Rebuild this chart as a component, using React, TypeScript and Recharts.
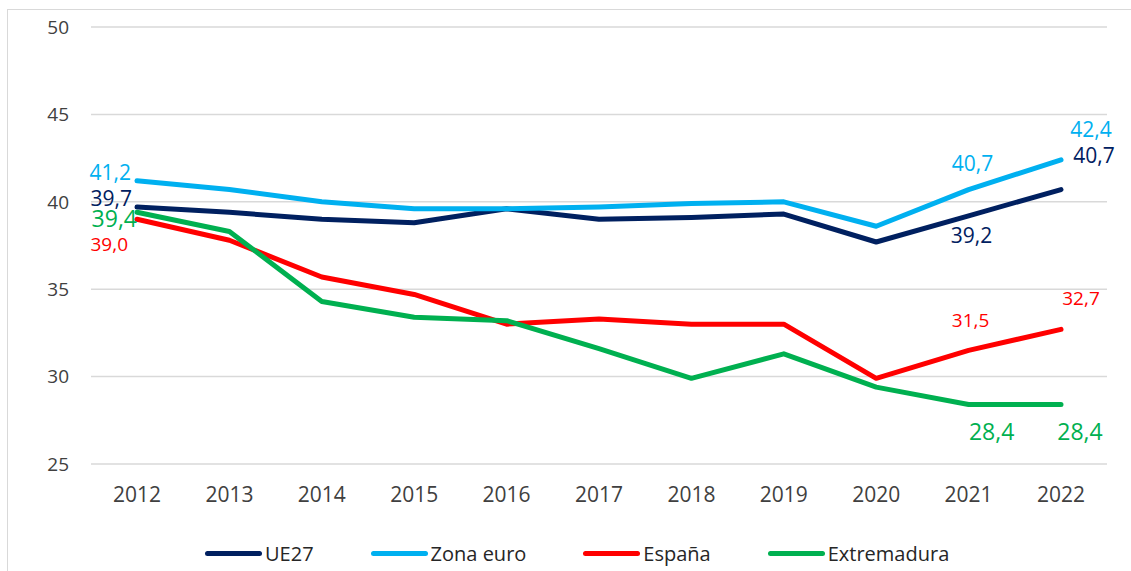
import { LineChart, Line, XAxis, YAxis, CartesianGrid, Legend, LabelList } from "recharts";

const years = ["2012", "2013", "2014", "2015", "2016", "2017", "2018", "2019", "2020", "2021", "2022"];
const ue27 = [39.7, 39.4, 39.0, 38.8, 39.6, 39.0, 39.1, 39.3, 37.7, 39.2, 40.7];
const zonaEuro = [41.2, 40.7, 40.0, 39.6, 39.6, 39.7, 39.9, 40.0, 38.6, 40.7, 42.4];
const espana = [39.0, 37.8, 35.7, 34.7, 33.0, 33.3, 33.0, 33.0, 29.9, 31.5, 32.7];
const extremadura = [39.4, 38.3, 34.3, 33.4, 33.2, 31.6, 29.9, 31.3, 29.4, 28.4, 28.4];
const yTicks = [25, 30, 35, 40, 45, 50];

const data = years.map((year, i) => ({
  year,
  ue27: ue27[i],
  zona: zonaEuro[i],
  espana: espana[i],
  extremadura: extremadura[i],
}));

const series = [
  { key: "ue27", name: "UE27", color: "#002060", size: 21 },
  { key: "zona", name: "Zona euro", color: "#00B0F0", size: 21 },
  { key: "espana", name: "España", color: "#FF0000", size: 19 },
  { key: "extremadura", name: "Extremadura", color: "#00B050", size: 23 },
];

// where each visible data label sits relative to its point (by year index)
type Place = { dx: number; dy: number; anchor: "start" | "middle" | "end" };
const labelPlaces: Record<string, Record<number, Place>> = {
  ue27: {
    0: { dx: -5, dy: -9, anchor: "end" },
    9: { dx: 3, dy: 19, anchor: "middle" },
    10: { dx: 33, dy: -35, anchor: "middle" },
  },
  zona: {
    0: { dx: -6, dy: -9, anchor: "end" },
    9: { dx: 4, dy: -27, anchor: "middle" },
    10: { dx: 30, dy: -31, anchor: "middle" },
  },
  espana: {
    0: { dx: -9, dy: 25, anchor: "end" },
    9: { dx: 2, dy: -30, anchor: "middle" },
    10: { dx: 20, dy: -31, anchor: "middle" },
  },
  extremadura: {
    0: { dx: 0, dy: 6, anchor: "end" },
    9: { dx: 23, dy: 26, anchor: "middle" },
    10: { dx: 19, dy: 26, anchor: "middle" },
  },
};

const fmt = (v: number) => v.toFixed(1).replace(".", ",");

const makeLabel = (key: string, color: string, size: number) => (props: any) => {
  const { x, y, value, index } = props;
  const place = labelPlaces[key][index];
  if (!place) return null;
  return (
    <text
      x={x + place.dx}
      y={y + place.dy}
      textAnchor={place.anchor}
      dominantBaseline="central"
      fill={color}
      fontSize={size}
      fontFamily="Open Sans"
    >
      {fmt(value)}
    </text>
  );
};

const LegendContent = () => (
  <div style={{ display: "flex", alignItems: "center", paddingLeft: 205, paddingTop: 9 }}>
    {series.map((s) => (
      <div key={s.key} style={{ display: "flex", alignItems: "center", marginRight: 57 }}>
        <span style={{ width: 57, height: 5, borderRadius: 3, background: s.color, display: "inline-block" }} />
        <span style={{ marginLeft: 3, fontSize: 20, color: "#262626", fontFamily: "Open Sans" }}>{s.name}</span>
      </div>
    ))}
  </div>
);

export default function App() {
  return (
    <div style={{ position: "absolute", left: 0, top: 0, width: 1131, height: 571, overflow: "hidden", background: "#fff" }}>
      <div
        style={{
          position: "absolute",
          left: 7,
          top: 9,
          width: 1200,
          height: 700,
          border: "1px solid #d9d9d9",
        }}
      />
      <LineChart
        width={1131}
        height={571}
        data={data}
        margin={{ top: 27, right: 24, left: 0, bottom: 0 }}
        style={{ position: "absolute", left: 0, top: 0 }}
      >
        <CartesianGrid vertical={false} stroke="#d9d9d9" strokeWidth={1.5} />
        <XAxis
          dataKey="year"
          axisLine={false}
          tickLine={false}
          tickSize={0}
          tickMargin={23}
          height={67}
          padding={{ left: 46, right: 46 }}
          tick={{ fill: "#404040", fontSize: 21, fontFamily: "Open Sans" }}
        />
        <YAxis
          domain={[25, 50]}
          ticks={yTicks}
          axisLine={false}
          tickLine={false}
          tickSize={0}
          tickMargin={22}
          width={91}
          tick={{ fill: "#404040", fontSize: 19, fontFamily: "Open Sans" }}
        />
        <Legend verticalAlign="bottom" height={40} content={<LegendContent />} />
        {series.map((s) => (
          <Line
            key={s.key}
            dataKey={s.key}
            name={s.name}
            stroke={s.color}
            strokeWidth={5}
            strokeLinecap="round"
            strokeLinejoin="round"
            dot={false}
            isAnimationActive={false}
          >
            <LabelList dataKey={s.key} content={makeLabel(s.key, s.color, s.size)} />
          </Line>
        ))}
      </LineChart>
    </div>
  );
}
